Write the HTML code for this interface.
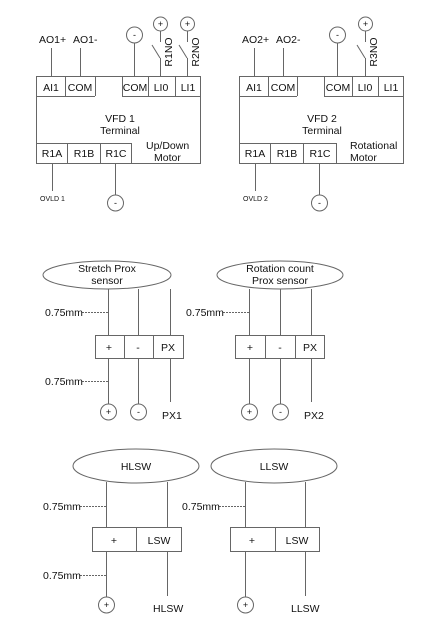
<!DOCTYPE html>
<html><head><meta charset="utf-8"><style>
html,body{margin:0;padding:0;background:#fff;}
svg{display:block;}
text{font-family:"Liberation Sans",Arial,sans-serif;fill:#111;}
</style></head><body>
<svg width="434" height="633" viewBox="0 0 434 633" xmlns="http://www.w3.org/2000/svg">
<g stroke="#666" stroke-width="1" fill="none">
<!-- VFD1 -->
<rect x="36.5" y="76.5" width="164" height="87"/>
<line x1="36" y1="96.5" x2="95" y2="96.5"/><line x1="95.5" y1="76" x2="95.5" y2="96"/><line x1="65.5" y1="76" x2="65.5" y2="96"/>
<line x1="122.5" y1="76" x2="122.5" y2="96"/><line x1="122" y1="96.5" x2="200" y2="96.5"/><line x1="148.5" y1="76" x2="148.5" y2="96"/><line x1="175.5" y1="76" x2="175.5" y2="96"/>
<line x1="36" y1="143.5" x2="131" y2="143.5"/><line x1="131.5" y1="143" x2="131.5" y2="163"/><line x1="67.5" y1="143" x2="67.5" y2="163"/><line x1="100.5" y1="143" x2="100.5" y2="163"/>
<line x1="51.5" y1="48" x2="51.5" y2="76"/><line x1="80.5" y1="48" x2="80.5" y2="76"/>
<circle cx="134.5" cy="35" r="8"/><line x1="134.5" y1="43" x2="134.5" y2="76"/>
<circle cx="160.5" cy="24" r="7"/><line x1="160.5" y1="31" x2="160.5" y2="42"/><line x1="152" y1="45" x2="160" y2="58"/><line x1="160.5" y1="58" x2="160.5" y2="76"/>
<circle cx="187.5" cy="24" r="7"/><line x1="187.5" y1="31" x2="187.5" y2="42"/><line x1="179" y1="45" x2="187" y2="58"/><line x1="187.5" y1="58" x2="187.5" y2="76"/>
<line x1="52.5" y1="163" x2="52.5" y2="191"/><line x1="115.5" y1="163" x2="115.5" y2="195"/><circle cx="115.5" cy="203" r="8"/>
<!-- VFD2 -->
<rect x="239.5" y="76.5" width="164" height="87"/>
<line x1="239" y1="96.5" x2="297" y2="96.5"/><line x1="297.5" y1="76" x2="297.5" y2="96"/><line x1="268.5" y1="76" x2="268.5" y2="96"/>
<line x1="324.5" y1="76" x2="324.5" y2="96"/><line x1="324" y1="96.5" x2="403" y2="96.5"/><line x1="352.5" y1="76" x2="352.5" y2="96"/><line x1="378.5" y1="76" x2="378.5" y2="96"/>
<line x1="239" y1="143.5" x2="336" y2="143.5"/><line x1="336.5" y1="143" x2="336.5" y2="163"/><line x1="270.5" y1="143" x2="270.5" y2="163"/><line x1="303.5" y1="143" x2="303.5" y2="163"/>
<line x1="254.5" y1="48" x2="254.5" y2="76"/><line x1="283.5" y1="48" x2="283.5" y2="76"/>
<circle cx="337.5" cy="35" r="8"/><line x1="337.5" y1="43" x2="337.5" y2="76"/>
<circle cx="365.5" cy="24" r="7"/><line x1="365.5" y1="31" x2="365.5" y2="42"/><line x1="357" y1="45" x2="365" y2="58"/><line x1="365.5" y1="58" x2="365.5" y2="76"/>
<line x1="255.5" y1="163" x2="255.5" y2="191"/><line x1="319.5" y1="163" x2="319.5" y2="195"/><circle cx="319.5" cy="203" r="8"/>
<!-- Sensor 1 -->
<ellipse cx="107" cy="275" rx="64" ry="14"/>
<line x1="108.5" y1="289" x2="108.5" y2="335"/><line x1="138.5" y1="289" x2="138.5" y2="335"/><line x1="170.5" y1="289" x2="170.5" y2="335"/>
<rect x="95.5" y="335.5" width="88" height="23"/><line x1="124.5" y1="335" x2="124.5" y2="358"/><line x1="153.5" y1="335" x2="153.5" y2="358"/>
<line x1="108.5" y1="358" x2="108.5" y2="404"/><line x1="138.5" y1="358" x2="138.5" y2="404"/><line x1="170.5" y1="358" x2="170.5" y2="402"/>
<circle cx="108.5" cy="412" r="8"/><circle cx="138.5" cy="412" r="8"/>
<line x1="82" y1="312.5" x2="108" y2="312.5" stroke-dasharray="2,1"/><line x1="82" y1="381.5" x2="108" y2="381.5" stroke-dasharray="2,1"/>
<!-- Sensor 2 -->
<ellipse cx="280" cy="275" rx="63" ry="14"/>
<line x1="249.5" y1="289" x2="249.5" y2="335"/><line x1="280.5" y1="289" x2="280.5" y2="335"/><line x1="311.5" y1="289" x2="311.5" y2="335"/>
<rect x="235.5" y="335.5" width="89" height="23"/><line x1="265.5" y1="335" x2="265.5" y2="358"/><line x1="295.5" y1="335" x2="295.5" y2="358"/>
<line x1="249.5" y1="358" x2="249.5" y2="404"/><line x1="280.5" y1="358" x2="280.5" y2="404"/><line x1="311.5" y1="358" x2="311.5" y2="402"/>
<circle cx="249.5" cy="412" r="8"/><circle cx="280.5" cy="412" r="8"/>
<line x1="223" y1="312.5" x2="249" y2="312.5" stroke-dasharray="2,1"/>
<!-- HLSW -->
<ellipse cx="136" cy="466" rx="63" ry="17"/>
<line x1="106.5" y1="482" x2="106.5" y2="527"/><line x1="167.5" y1="482" x2="167.5" y2="527"/>
<rect x="92.5" y="527.5" width="89" height="24"/><line x1="136.5" y1="527" x2="136.5" y2="551"/>
<line x1="106.5" y1="552" x2="106.5" y2="597"/><line x1="167.5" y1="552" x2="167.5" y2="596"/>
<circle cx="106.5" cy="605" r="8"/>
<line x1="80" y1="506.5" x2="106" y2="506.5" stroke-dasharray="2,1"/><line x1="80" y1="575.5" x2="106" y2="575.5" stroke-dasharray="2,1"/>
<!-- LLSW -->
<ellipse cx="274" cy="466" rx="63" ry="17"/>
<line x1="245.5" y1="482" x2="245.5" y2="527"/><line x1="305.5" y1="482" x2="305.5" y2="527"/>
<rect x="230.5" y="527.5" width="89" height="24"/><line x1="275.5" y1="527" x2="275.5" y2="551"/>
<line x1="245.5" y1="552" x2="245.5" y2="597"/><line x1="305.5" y1="552" x2="305.5" y2="596"/>
<circle cx="245.5" cy="605" r="8"/>
<line x1="219" y1="506.5" x2="245" y2="506.5" stroke-dasharray="2,1"/>
</g>
<g font-size="10.5">
<text x="39" y="43">AO1+</text><text x="73" y="43">AO1-</text>
<text x="51" y="91" text-anchor="middle">AI1</text><text x="80" y="91" text-anchor="middle">COM</text>
<text x="135" y="91" text-anchor="middle">COM</text><text x="161" y="91" text-anchor="middle">LI0</text><text x="188" y="91" text-anchor="middle">LI1</text>
<text x="120" y="122" text-anchor="middle">VFD 1</text><text x="120" y="134" text-anchor="middle">Terminal</text>
<text x="146" y="149">Up/Down</text><text x="154" y="161">Motor</text>
<text x="52" y="157" text-anchor="middle">R1A</text><text x="84" y="157" text-anchor="middle">R1B</text><text x="116" y="157" text-anchor="middle">R1C</text>
<text transform="translate(172,52) rotate(-90)" text-anchor="middle">R1NO</text>
<text transform="translate(199,52) rotate(-90)" text-anchor="middle">R2NO</text>
<text x="242" y="43">AO2+</text><text x="276" y="43">AO2-</text>
<text x="254" y="91" text-anchor="middle">AI1</text><text x="283" y="91" text-anchor="middle">COM</text>
<text x="338" y="91" text-anchor="middle">COM</text><text x="365" y="91" text-anchor="middle">LI0</text><text x="391" y="91" text-anchor="middle">LI1</text>
<text x="322" y="122" text-anchor="middle">VFD 2</text><text x="322" y="134" text-anchor="middle">Terminal</text>
<text x="350" y="149">Rotational</text><text x="350" y="161">Motor</text>
<text x="255" y="157" text-anchor="middle">R1A</text><text x="287" y="157" text-anchor="middle">R1B</text><text x="320" y="157" text-anchor="middle">R1C</text>
<text transform="translate(377,52) rotate(-90)" text-anchor="middle">R3NO</text>
<text x="107" y="272" text-anchor="middle">Stretch Prox</text><text x="107" y="284" text-anchor="middle">sensor</text>
<text x="280" y="272" text-anchor="middle">Rotation count</text><text x="280" y="284" text-anchor="middle">Prox sensor</text>
<text x="109" y="351" text-anchor="middle">+</text><text x="138" y="351" text-anchor="middle">-</text><text x="168" y="351" text-anchor="middle">PX</text>
<text x="250" y="351" text-anchor="middle">+</text><text x="280" y="351" text-anchor="middle">-</text><text x="310" y="351" text-anchor="middle">PX</text>
<text x="162" y="419">PX1</text><text x="304" y="419">PX2</text>
<text x="136" y="470" text-anchor="middle">HLSW</text><text x="274" y="470" text-anchor="middle">LLSW</text>
<text x="114" y="544" text-anchor="middle">+</text><text x="159" y="544" text-anchor="middle">LSW</text>
<text x="252" y="544" text-anchor="middle">+</text><text x="297" y="544" text-anchor="middle">LSW</text>
<text x="153" y="612">HLSW</text><text x="291" y="612">LLSW</text>
<text x="45" y="316">0.75mm</text><text x="45" y="385">0.75mm</text><text x="186" y="316">0.75mm</text>
<text x="43" y="510">0.75mm</text><text x="43" y="579">0.75mm</text><text x="182" y="510">0.75mm</text>
</g>
<g font-size="9" text-anchor="middle">
<text x="134.5" y="38">-</text><text x="160.5" y="27">+</text><text x="187.5" y="27">+</text><text x="115.5" y="206">-</text>
<text x="337.5" y="38">-</text><text x="365.5" y="27">+</text><text x="319.5" y="206">-</text>
<text x="108.5" y="415">+</text><text x="138.5" y="415">-</text><text x="249.5" y="415">+</text><text x="280.5" y="415">-</text>
<text x="106.5" y="608">+</text><text x="245.5" y="608">+</text>
</g>
<g font-size="7"><text x="40" y="201">OVLD 1</text><text x="243" y="201">OVLD 2</text></g>
</svg>
</body></html>
